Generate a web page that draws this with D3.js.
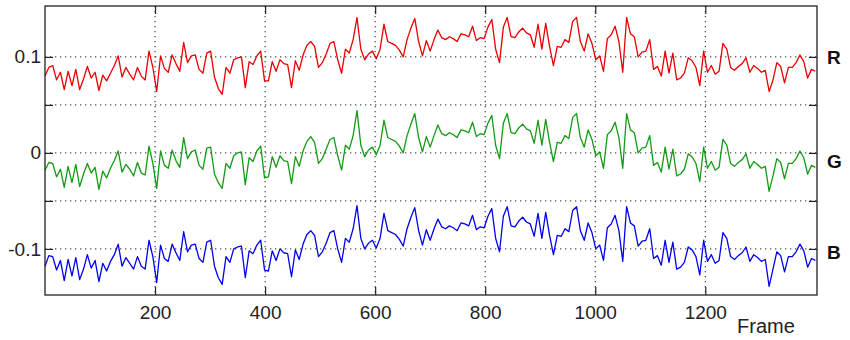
<!DOCTYPE html>
<html>
<head>
<meta charset="utf-8">
<script src="https://cdn.jsdelivr.net/npm/d3@7"></script>
<style>
  body { margin: 0; background: #fff; }
  text { font-family: "Liberation Sans", Arial, Helvetica, sans-serif; }
</style>
</head>
<body>
<div id="chart"></div>
<script>
// frame numbers (one sample every 7 frames) and the three colour traces
var frameStep = 7;
var channels = ["R", "G", "B"];

var rValues = [
  0.080,0.089,0.091,0.076,0.084,0.066,0.085,0.070,0.087,0.066,
  0.077,0.090,0.078,0.084,0.065,0.081,0.075,0.083,0.091,0.101,
  0.079,0.089,0.082,0.076,0.089,0.080,0.076,0.106,0.089,0.064,
  0.101,0.088,0.084,0.102,0.093,0.085,0.115,0.094,0.101,0.102,
  0.087,0.083,0.104,0.106,0.079,0.067,0.061,0.089,0.083,0.097,
  0.099,0.100,0.068,0.095,0.092,0.101,0.106,0.075,0.075,0.095,
  0.085,0.097,0.093,0.092,0.068,0.096,0.086,0.102,0.112,0.116,
  0.111,0.089,0.094,0.103,0.114,0.116,0.097,0.083,0.108,0.104,
  0.118,0.141,0.108,0.097,0.103,0.106,0.098,0.108,0.134,0.116,
  0.114,0.112,0.107,0.100,0.118,0.130,0.140,0.116,0.101,0.117,
  0.106,0.118,0.128,0.120,0.118,0.121,0.119,0.116,0.124,0.123,
  0.121,0.132,0.117,0.120,0.119,0.131,0.139,0.108,0.094,0.131,
  0.141,0.121,0.120,0.126,0.130,0.125,0.123,0.110,0.134,0.108,
  0.135,0.111,0.091,0.111,0.110,0.118,0.115,0.137,0.141,0.116,
  0.106,0.124,0.114,0.097,0.101,0.085,0.119,0.123,0.132,0.116,
  0.084,0.141,0.124,0.121,0.100,0.105,0.106,0.118,0.087,0.090,
  0.080,0.106,0.083,0.104,0.076,0.078,0.083,0.099,0.096,0.089,
  0.070,0.106,0.084,0.091,0.082,0.085,0.114,0.108,0.089,0.086,
  0.090,0.093,0.099,0.084,0.091,0.088,0.084,0.086,0.064,0.076,
  0.094,0.090,0.073,0.089,0.089,0.094,0.102,0.095,0.078,0.087,
  0.085
];

var gValues = [
  -0.018,-0.010,-0.011,-0.025,-0.017,-0.036,-0.014,-0.031,-0.012,-0.035,
  -0.022,-0.011,-0.021,-0.015,-0.038,-0.019,-0.026,-0.016,-0.008,0.002,
  -0.020,-0.012,-0.017,-0.024,-0.010,-0.021,-0.023,0.007,-0.011,-0.037,
  0.002,-0.013,-0.016,0.003,-0.008,-0.015,0.016,-0.006,0.001,0.003,
  -0.013,-0.017,0.005,0.006,-0.022,-0.031,-0.037,-0.011,-0.016,-0.003,
  0.000,0.001,-0.033,-0.005,-0.009,0.002,0.007,-0.026,-0.025,-0.004,
  -0.015,-0.003,-0.008,-0.009,-0.032,-0.004,-0.014,0.002,0.012,0.017,
  0.011,-0.011,-0.006,0.004,0.014,0.016,-0.003,-0.018,0.008,0.004,
  0.018,0.044,0.008,-0.004,0.003,0.006,-0.002,0.008,0.034,0.016,
  0.014,0.012,0.007,0.000,0.018,0.030,0.041,0.016,0.001,0.017,
  0.006,0.018,0.029,0.020,0.018,0.021,0.019,0.016,0.024,0.023,
  0.021,0.032,0.017,0.020,0.019,0.031,0.039,0.008,-0.006,0.031,
  0.041,0.021,0.020,0.026,0.030,0.025,0.023,0.010,0.034,0.008,
  0.035,0.011,-0.009,0.011,0.010,0.018,0.015,0.037,0.041,0.016,
  0.006,0.024,0.014,-0.003,0.001,-0.016,0.019,0.023,0.032,0.016,
  -0.016,0.041,0.024,0.021,0.000,0.005,0.006,0.018,-0.013,-0.010,
  -0.020,0.006,-0.017,0.004,-0.024,-0.022,-0.017,-0.001,-0.004,-0.011,
  -0.030,0.006,-0.016,-0.009,-0.018,-0.015,0.014,0.008,-0.011,-0.014,
  -0.010,-0.007,-0.001,-0.016,-0.009,-0.012,-0.016,-0.014,-0.040,-0.024,
  -0.006,-0.010,-0.027,-0.011,-0.011,-0.006,0.002,-0.005,-0.022,-0.013,
  -0.015
];

var bValues = [
  -0.118,-0.107,-0.108,-0.122,-0.112,-0.133,-0.111,-0.128,-0.109,-0.132,
  -0.121,-0.106,-0.120,-0.112,-0.134,-0.115,-0.123,-0.113,-0.106,-0.095,
  -0.118,-0.109,-0.115,-0.121,-0.108,-0.118,-0.121,-0.091,-0.108,-0.135,
  -0.096,-0.110,-0.113,-0.095,-0.104,-0.112,-0.082,-0.103,-0.096,-0.095,
  -0.110,-0.114,-0.093,-0.091,-0.118,-0.130,-0.137,-0.108,-0.114,-0.100,
  -0.098,-0.097,-0.130,-0.102,-0.105,-0.096,-0.091,-0.122,-0.123,-0.102,
  -0.112,-0.100,-0.104,-0.105,-0.129,-0.101,-0.111,-0.095,-0.085,-0.081,
  -0.086,-0.108,-0.103,-0.094,-0.083,-0.081,-0.100,-0.114,-0.089,-0.093,
  -0.079,-0.055,-0.089,-0.100,-0.094,-0.091,-0.099,-0.089,-0.063,-0.081,
  -0.083,-0.085,-0.090,-0.097,-0.079,-0.067,-0.057,-0.081,-0.096,-0.080,
  -0.091,-0.079,-0.069,-0.077,-0.079,-0.076,-0.078,-0.081,-0.073,-0.074,
  -0.076,-0.065,-0.080,-0.077,-0.078,-0.066,-0.058,-0.089,-0.103,-0.066,
  -0.056,-0.076,-0.077,-0.071,-0.067,-0.072,-0.074,-0.087,-0.063,-0.089,
  -0.062,-0.086,-0.106,-0.086,-0.087,-0.079,-0.082,-0.060,-0.056,-0.081,
  -0.091,-0.073,-0.083,-0.100,-0.096,-0.112,-0.078,-0.074,-0.065,-0.081,
  -0.113,-0.056,-0.073,-0.076,-0.097,-0.092,-0.091,-0.079,-0.110,-0.107,
  -0.117,-0.091,-0.114,-0.093,-0.121,-0.119,-0.114,-0.098,-0.101,-0.108,
  -0.127,-0.091,-0.113,-0.106,-0.115,-0.112,-0.083,-0.089,-0.108,-0.111,
  -0.107,-0.104,-0.098,-0.113,-0.106,-0.109,-0.113,-0.111,-0.139,-0.121,
  -0.103,-0.107,-0.124,-0.108,-0.108,-0.103,-0.095,-0.102,-0.119,-0.110,
  -0.112
];

// tick values and labels
var xTicks = [200, 400, 600, 800, 1000, 1200];
var yTicks = [-0.1, -0.05, 0, 0.05, 0.1];
var yTickLabels = ["-0.1", "", "0", "", "0.1"];
var xLabel = "Frame";

// set the dimensions and margins of the graph
var margin = {top: 6, right: 33, bottom: 45, left: 45},
    width = 850 - margin.left - margin.right,
    height = 340 - margin.top - margin.bottom;

var svg = d3.select("#chart")
  .append("svg")
    .attr("width", 850)
    .attr("height", 340)
  .append("g")
    .attr("transform", "translate(" + margin.left + "," + margin.top + ")");

var x = d3.scaleLinear()
  .domain([0, 1403])
  .range([0, width]);

var y = d3.scaleLinear()
  .domain([-0.148, 0.153])
  .range([height, 0]);

// dotted grid
svg.append("g")
  .selectAll("line")
  .data(xTicks)
  .enter()
  .append("line")
    .attr("x1", function(d) { return x(d); })
    .attr("x2", function(d) { return x(d); })
    .attr("y1", 0)
    .attr("y2", height)
    .attr("stroke", "#222")
    .attr("stroke-dasharray", "1.3,3.7");

svg.append("g")
  .selectAll("line")
  .data(yTicks)
  .enter()
  .append("line")
    .attr("x1", 0)
    .attr("x2", width)
    .attr("y1", function(d) { return y(d); })
    .attr("y2", function(d) { return y(d); })
    .attr("stroke", "#222")
    .attr("stroke-dasharray", "1.3,3.7");

// the three traces
var series = [
  {name: channels[0], values: rValues, color: "#e80000"},
  {name: channels[1], values: gValues, color: "#139a13"},
  {name: channels[2], values: bValues, color: "#0000ee"}
];

var line = d3.line()
  .x(function(d, i) { return x(i * frameStep); })
  .y(function(d) { return y(d); });

svg.selectAll("path.trace")
  .data(series)
  .enter()
  .append("path")
    .attr("class", "trace")
    .attr("d", function(d) { return line(d.values); })
    .attr("fill", "none")
    .attr("stroke", function(d) { return d.color; })
    .attr("stroke-width", 1.3)
    .attr("stroke-linejoin", "round");

// axes, ticks pointing inwards like matlab
svg.append("g")
  .attr("transform", "translate(0," + height + ")")
  .call(d3.axisBottom(x).tickValues(xTicks).tickSize(-8).tickPadding(11).tickFormat(d3.format("d")));

svg.append("g")
  .call(d3.axisTop(x).tickValues(xTicks).tickSize(-8).tickFormat(""));

svg.append("g")
  .call(d3.axisLeft(y).tickValues(yTicks).tickSize(-8).tickPadding(4)
    .tickFormat(function(d, i) { return yTickLabels[i]; }));

svg.append("g")
  .attr("transform", "translate(" + width + ",0)")
  .call(d3.axisRight(y).tickValues(yTicks).tickSize(-8).tickFormat(""));

svg.selectAll(".domain").remove();
svg.selectAll(".tick line").attr("stroke", "#222").attr("stroke-width", 1.2);
svg.selectAll(".tick text")
  .style("font-size", "19px")
  .style("fill", "#222");

// box round the plot
svg.append("rect")
  .attr("x", 0)
  .attr("y", 0)
  .attr("width", width)
  .attr("height", height)
  .attr("fill", "none")
  .attr("stroke", "#222")
  .attr("stroke-width", 1.3);

// x label
svg.append("text")
  .attr("x", 692)
  .attr("y", height + 38)
  .text(xLabel)
  .style("font-size", "20px")
  .style("fill", "#222");

// R G B names on the right
var nameY = [y(0.1), y(0) + 8, y(-0.1) + 3];
svg.selectAll("text.name")
  .data(series)
  .enter()
  .append("text")
    .attr("class", "name")
    .attr("x", width + 10)
    .attr("y", function(d, i) { return nameY[i]; })
    .attr("dy", "0.35em")
    .text(function(d) { return d.name; })
    .style("font-size", "19px")
    .style("font-weight", "bold")
    .style("fill", "#111");
</script>
</body>
</html>
